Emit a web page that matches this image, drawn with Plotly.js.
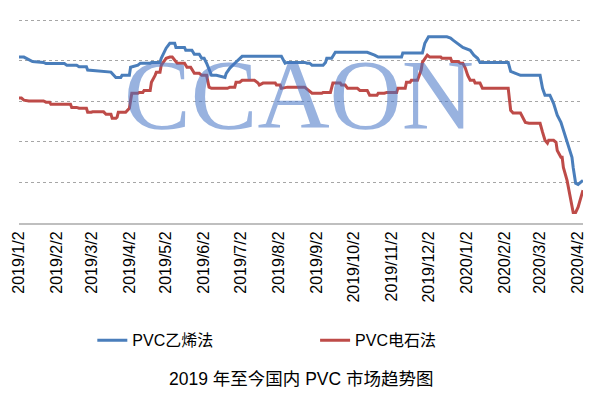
<!DOCTYPE html>
<html>
<head>
<meta charset="utf-8">
<script src="https://cdn.plot.ly/plotly-3.0.1.min.js"></script>
<style>html,body{margin:0;padding:0;background:#fff;}#chart{width:606px;height:398px;}</style>
</head>
<body>
<div id="chart"></div>
<script>
// PVC乙烯法 (ethylene method)
const blueDates = ["2019-01-02","2019-01-06","2019-01-13","2019-01-22","2019-01-24","2019-02-08","2019-02-10","2019-02-18","2019-02-20","2019-02-26","2019-02-27","2019-03-12","2019-03-18","2019-03-22","2019-03-26","2019-03-27","2019-04-02","2019-04-03","2019-04-09","2019-04-11","2019-04-19","2019-04-20","2019-04-27","2019-04-28","2019-05-02","2019-05-05","2019-05-09","2019-05-10","2019-05-17","2019-05-18","2019-05-23","2019-05-25","2019-05-29","2019-05-31","2019-06-02","2019-06-04","2019-06-06","2019-06-08","2019-06-12","2019-06-19","2019-06-20","2019-06-23","2019-06-27","2019-07-01","2019-07-03","2019-08-04","2019-08-07","2019-08-09","2019-08-23","2019-08-25","2019-08-27","2019-08-29","2019-09-07","2019-09-09","2019-09-10","2019-09-14","2019-09-17","2019-10-13","2019-10-15","2019-10-19","2019-10-22","2019-11-10","2019-11-11","2019-11-27","2019-11-29","2019-12-01","2019-12-02","2019-12-17","2019-12-20","2019-12-22","2019-12-26","2019-12-30","2020-01-05","2020-01-08","2020-01-11","2020-01-13","2020-02-05","2020-02-07","2020-02-11","2020-02-15","2020-03-02","2020-03-04","2020-03-06","2020-03-10","2020-03-13","2020-03-16","2020-03-19","2020-03-21","2020-03-24","2020-03-28","2020-03-29","2020-03-31","2020-04-02","2020-04-06"];
const blueValues = [7045,7045,6990,6980,6965,6965,6945,6945,6925,6925,6885,6870,6860,6795,6795,6820,6820,6920,6945,6970,6970,6980,6980,7030,7155,7215,7215,7165,7165,7130,7130,7080,7080,7030,7030,6970,6885,6820,6820,6795,6845,6910,6970,7030,7055,7055,6970,6980,6980,6970,6970,6945,6945,6980,7030,7030,7105,7105,7095,7070,7045,7045,7095,7095,7215,7280,7295,7295,7280,7255,7215,7165,7130,7070,7030,6980,6980,6870,6845,6820,6820,6660,6575,6575,6475,6330,6240,6145,5995,5810,5685,5490,5475,5525];

// PVC电石法 (calcium carbide method)
const redDates = ["2019-01-02","2019-01-04","2019-01-06","2019-01-10","2019-01-22","2019-01-24","2019-01-27","2019-01-28","2019-02-13","2019-02-14","2019-02-18","2019-02-20","2019-02-26","2019-02-27","2019-03-02","2019-03-03","2019-03-12","2019-03-14","2019-03-18","2019-03-19","2019-03-22","2019-03-23","2019-03-24","2019-03-30","2019-04-02","2019-04-03","2019-04-04","2019-04-09","2019-04-10","2019-04-13","2019-04-14","2019-04-19","2019-04-20","2019-04-23","2019-04-24","2019-04-27","2019-04-28","2019-05-02","2019-05-05","2019-05-07","2019-05-09","2019-05-11","2019-05-17","2019-05-19","2019-05-22","2019-05-25","2019-05-29","2019-05-31","2019-06-04","2019-06-05","2019-06-06","2019-06-08","2019-06-21","2019-06-23","2019-06-27","2019-06-28","2019-07-01","2019-07-03","2019-07-13","2019-07-16","2019-07-17","2019-07-20","2019-07-30","2019-07-31","2019-08-03","2019-08-04","2019-08-09","2019-08-23","2019-08-26","2019-08-29","2019-09-06","2019-09-07","2019-09-13","2019-09-14","2019-09-15","2019-09-21","2019-09-22","2019-09-25","2019-09-27","2019-10-05","2019-10-07","2019-10-13","2019-10-15","2019-10-21","2019-10-22","2019-10-27","2019-10-29","2019-11-06","2019-11-07","2019-11-13","2019-11-14","2019-11-17","2019-11-18","2019-11-23","2019-11-26","2019-11-27","2019-12-01","2019-12-03","2019-12-12","2019-12-13","2019-12-20","2019-12-21","2019-12-26","2019-12-28","2019-12-30","2020-01-01","2020-01-03","2020-01-05","2020-01-08","2020-01-09","2020-01-13","2020-01-15","2020-02-05","2020-02-07","2020-02-09","2020-02-15","2020-02-17","2020-02-19","2020-02-22","2020-03-02","2020-03-04","2020-03-06","2020-03-08","2020-03-09","2020-03-13","2020-03-15","2020-03-16","2020-03-19","2020-03-20","2020-03-21","2020-03-24","2020-03-27","2020-03-29","2020-03-31","2020-04-02","2020-04-06"];
const redValues = [6540,6540,6515,6505,6505,6490,6490,6465,6465,6425,6425,6415,6415,6365,6365,6370,6370,6340,6340,6290,6290,6305,6365,6365,6415,6540,6600,6600,6610,6610,6635,6635,6735,6820,6860,6860,6945,7030,7045,7045,7005,6970,6970,6920,6920,6845,6845,6820,6820,6760,6675,6660,6660,6675,6675,6735,6735,6760,6760,6725,6700,6725,6725,6700,6700,6660,6675,6675,6635,6600,6600,6610,6610,6675,6725,6725,6700,6700,6660,6660,6635,6635,6575,6575,6600,6600,6610,6610,6660,6660,6735,6735,6760,6760,6885,6980,7070,7045,7045,7030,7030,6990,6990,6970,6970,6910,6820,6760,6760,6725,6725,6660,6660,6390,6355,6355,6290,6240,6230,6230,6120,6020,5985,6020,6020,5995,5895,5810,5810,5685,5525,5280,5130,5130,5195,5405];

const tickDates = ["2019-01-02","2019-02-02","2019-03-02","2019-04-02","2019-05-02","2019-06-02","2019-07-02","2019-08-02","2019-09-02","2019-10-02","2019-11-02","2019-12-02","2020-01-02","2020-02-02","2020-03-02","2020-04-02"];
const tickLabels = ["2019/1/2","2019/2/2","2019/3/2","2019/4/2","2019/5/2","2019/6/2","2019/7/2","2019/8/2","2019/9/2","2019/10/2","2019/11/2","2019/12/2","2020/1/2","2020/2/2","2020/3/2","2020/4/2"];

const seriesNames = ["PVC乙烯法","PVC电石法"];
const captionText = "2019 年至今国内 PVC 市场趋势图";
const watermarkText = "CCAON";

const traces = [
  {x: blueDates, y: blueValues, name: seriesNames[0], type: "scatter", mode: "lines",
   line: {color: "#4a7ebb", width: 3}, legend: "legend"},
  {x: redDates, y: redValues, name: seriesNames[1], type: "scatter", mode: "lines",
   line: {color: "#be4b48", width: 3}, legend: "legend2"}
];

const legendFont = {family: "Liberation Sans, Noto Sans CJK SC, sans-serif", size: 16, color: "#000"};

const layout = {
  width: 606, height: 398,
  margin: {l: 19, r: 23, t: 19, b: 175},
  paper_bgcolor: "#fff", plot_bgcolor: "#fff",
  showlegend: true,
  xaxis: {
    type: "date",
    range: ["2019-01-02", "2020-04-06"],
    tickmode: "array", tickvals: tickDates, ticktext: tickLabels,
    tickangle: -90,
    tickfont: {family: "Liberation Sans, Arial, sans-serif", size: 16, color: "#000"},
    showgrid: false, zeroline: false,
    showline: true, linecolor: "#bfbfbf", linewidth: 2,
    ticks: "", ticklen: 0
  },
  yaxis: {
    range: [5000, 7515], dtick: 500, tick0: 5000,
    showticklabels: false, ticks: "",
    showgrid: true, gridcolor: "#a6a6a6", gridwidth: 1, griddash: "dot",
    zeroline: false, showline: false
  },
  legend: {
    x: 0.13, y: -0.575, xanchor: "left", yanchor: "middle",
    orientation: "h", font: legendFont, bgcolor: "rgba(0,0,0,0)"
  },
  legend2: {
    x: 0.525, y: -0.575, xanchor: "left", yanchor: "middle",
    orientation: "h", font: legendFont, bgcolor: "rgba(0,0,0,0)"
  },
  annotations: [
    {text: watermarkText, xref: "paper", yref: "paper", x: 0.497, y: 0.63,
     xanchor: "center", yanchor: "middle", showarrow: false,
     font: {family: "Liberation Serif, Times New Roman, serif", size: 100, color: "rgba(68,114,196,0.55)"}},
    {text: captionText, xref: "paper", yref: "paper", x: 0.5, y: -0.765,
     xanchor: "center", yanchor: "middle", showarrow: false,
     font: {family: "Liberation Sans, Noto Sans CJK SC, sans-serif", size: 17.5, color: "#000"}}
  ]
};

Plotly.newPlot("chart", traces, layout, {displayModeBar: false, staticPlot: true});
</script>
</body>
</html>
